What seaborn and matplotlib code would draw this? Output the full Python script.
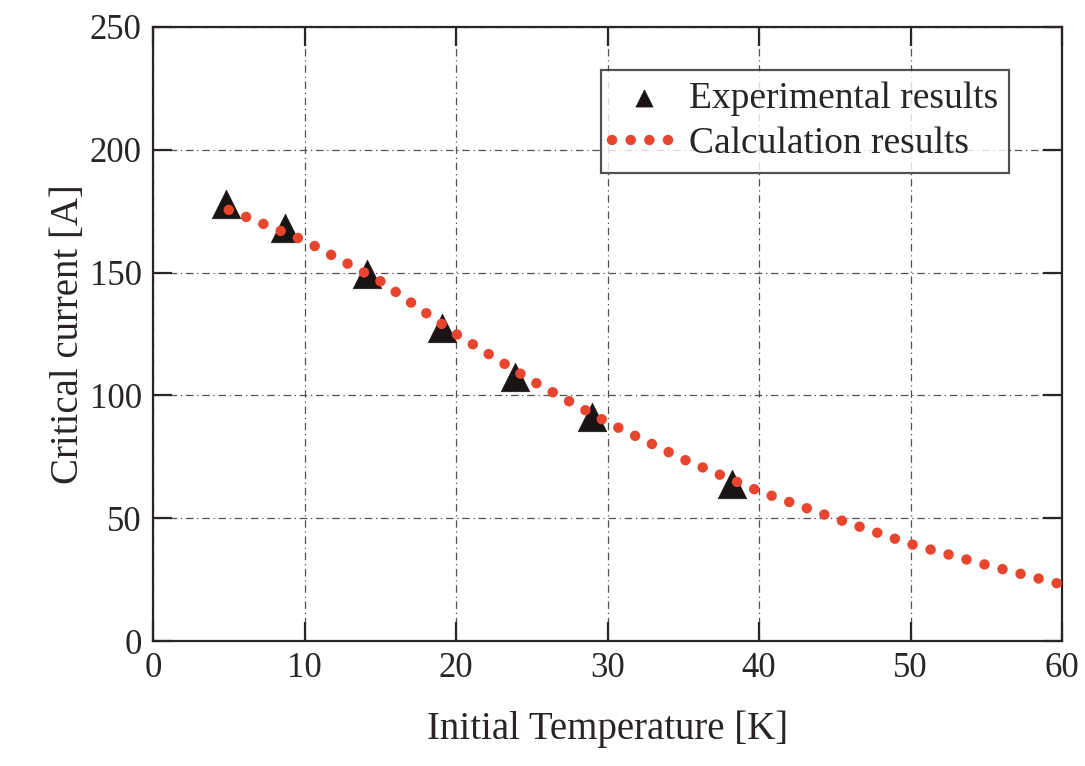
import matplotlib
matplotlib.use("Agg")
import matplotlib.pyplot as plt
import seaborn as sns
import pandas as pd

# Data
exp_temp = [4.8, 8.7, 14.1, 19.1, 23.9, 29.0, 38.2]
exp_current = [177.8, 168.1, 149.6, 127.5, 107.3, 91.2, 63.9]

calc_temp = [5, 10, 15, 20, 25, 30, 35, 40, 45, 50, 55, 60]
calc_current = [175.5, 163.0, 146.5, 125.0, 106.0, 89.0, 74.0, 61.0, 50.0, 39.5, 31.0, 23.0]

x_ticks = [0, 10, 20, 30, 40, 50, 60]
y_ticks = [0, 50, 100, 150, 200, 250]

sns.set_style("ticks")
plt.rcParams['font.family'] = ['Liberation Serif', 'DejaVu Serif']

fig = plt.figure(figsize=(10.85, 7.66), dpi=100)
ax = fig.add_axes([0.141, 0.163, 0.838, 0.802])

df_exp = pd.DataFrame({"T": exp_temp, "I": exp_current})
df_calc = pd.DataFrame({"T": calc_temp, "I": calc_current})

sns.lineplot(data=df_calc, x="T", y="I", ax=ax, color="#e8452f",
             linewidth=7.5, linestyle=(0, (0.01, 1.78)), dash_capstyle="round",
             label="Calculation results", zorder=3)
sns.scatterplot(data=df_exp, x="T", y="I", ax=ax, marker="^", s=420,
                color="#1a1414", edgecolor="#1a1414", linewidth=0.5,
                label="Experimental results", zorder=2)

ax.set_xlim(0, 60)
ax.set_ylim(0, 250)
ax.set_xticks(x_ticks)
ax.set_yticks(y_ticks)
ax.tick_params(axis="both", which="major", direction="in", length=14, width=1.6,
               labelsize=25, top=True, right=True, colors="#2a2424", pad=8)
for sp in ax.spines.values():
    sp.set_linewidth(1.6)
    sp.set_color("#2a2424")
    sp.set_visible(True)

ax.grid(True, linestyle=(0, (6, 3, 1, 3)), linewidth=0.9, color="#555050")

ax.set_xlabel("Initial Temperature [K]", fontsize=28, color="#2a2424", labelpad=18)
ax.set_ylabel("Critical current [A]", fontsize=28, color="#2a2424", labelpad=2)

handles, labels = ax.get_legend_handles_labels()
order = [labels.index("Experimental results"), labels.index("Calculation results")]
leg = ax.legend([handles[i] for i in order], [labels[i] for i in order],
                loc="upper right", bbox_to_anchor=(0.942, 0.93), fontsize=27,
                frameon=True, fancybox=False, edgecolor="#2a2424",
                handlelength=1.7, handletextpad=0.35, borderpad=0.3,
                labelspacing=0.3, borderaxespad=0, markerscale=0.6)
leg.get_frame().set_linewidth(1.6)

fig.savefig("out.png", dpi=100, facecolor="white")
